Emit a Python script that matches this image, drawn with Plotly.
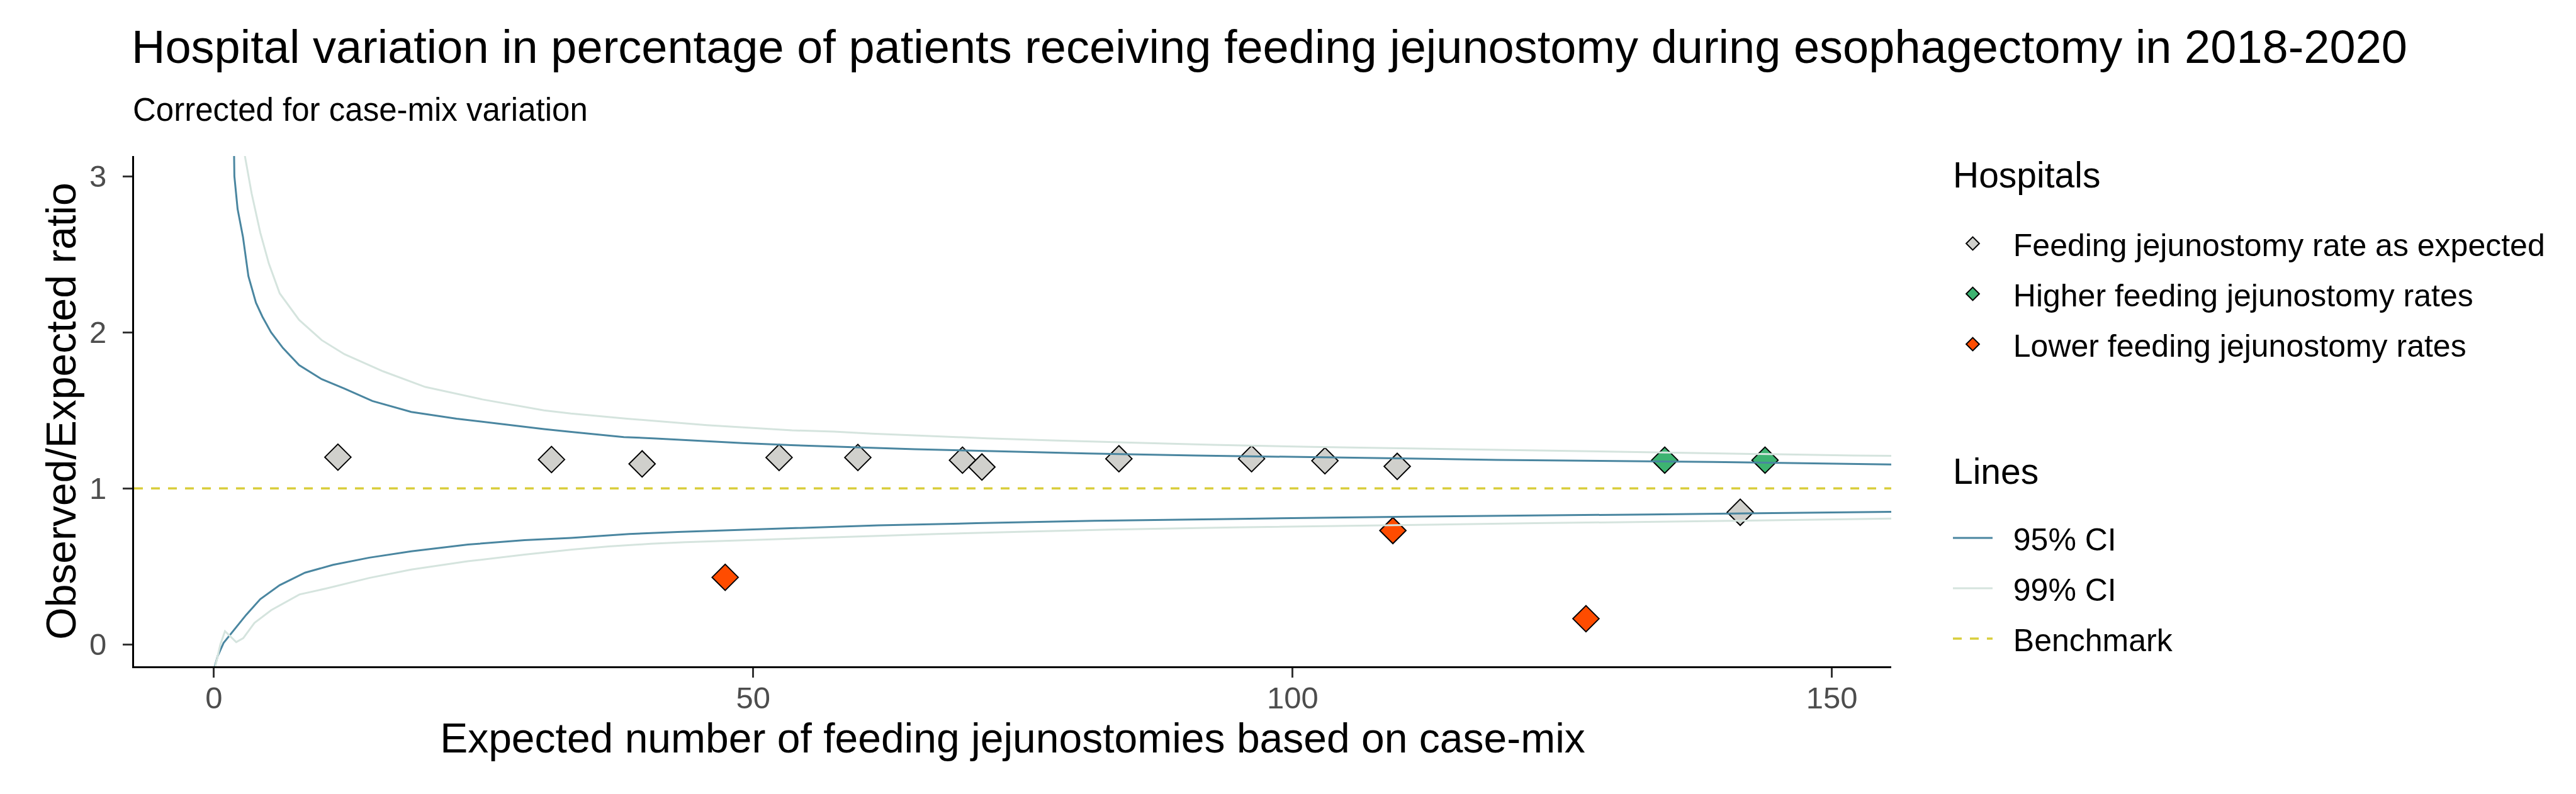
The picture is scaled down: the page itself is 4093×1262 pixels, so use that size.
import plotly.graph_objects as go

# ---------------- data ----------------
cat_labels = ["Feeding jejunostomy rate as expected",
              "Higher feeding jejunostomy rates",
              "Lower feeding jejunostomy rates"]
line_labels = ["95% CI", "99% CI", "Benchmark"]

asexp_x = [11.5, 31.3, 39.7, 52.4, 59.7, 69.4, 71.2, 83.9, 96.2, 103.0, 109.7, 141.5]
asexp_y = [1.20, 1.185, 1.157, 1.198, 1.198, 1.181, 1.137, 1.19, 1.19, 1.177, 1.141, 0.847]
higher_x = [134.5, 143.8]
higher_y = [1.181, 1.181]
lower_x = [47.4, 109.3, 127.2]
lower_y = [0.43, 0.73, 0.165]

ci95_up_x = [1.8, 1.9, 2.2, 2.7, 3.2, 3.9, 4.5, 5.3, 6.4, 7.9, 10.0, 12.1, 14.7, 18.3, 22.5,
             25.5, 28.5, 30.6, 33.0, 35.5, 38.0, 41.0, 44.5, 49.0, 53.5, 58.5, 65.0, 72.7,
             81.0, 91.0, 103.5, 119.0, 139.0, 153.0, 156.0]
ci95_up_y = [3.5, 3.0, 2.79, 2.61, 2.36, 2.19, 2.10, 2.00, 1.90, 1.79, 1.70, 1.64, 1.56, 1.49, 1.447,
             1.422, 1.397, 1.38, 1.363, 1.346, 1.329, 1.32, 1.306, 1.29, 1.277, 1.266, 1.251, 1.238,
             1.224, 1.211, 1.198, 1.183, 1.169, 1.155, 1.153]
ci95_lo_x = [0.05, 0.35, 0.9, 1.9, 3.0, 4.3, 6.1, 8.45, 11.05, 14.4, 18.3, 23.55, 28.8, 33.1,
             38.5, 43.0, 48.5, 54.5, 61.6, 70.7, 81.6, 95.0, 112.0, 133.0, 150.0, 156.0]
ci95_lo_y = [-0.15, -0.075, 0.01, 0.097, 0.19, 0.29, 0.38, 0.46, 0.51, 0.556, 0.597, 0.64, 0.668, 0.683,
             0.708, 0.721, 0.733, 0.747, 0.763, 0.777, 0.792, 0.805, 0.82, 0.833, 0.847, 0.85]

ci99_up_x = [2.8, 2.85, 3.5, 4.3, 5.1, 6.1, 7.9, 10.0, 12.1, 15.7, 19.6, 24.9, 30.6, 33.1, 38.3,
             45.7, 53.6, 57.5, 61.0, 66.0, 71.7, 77.7, 84.6, 92.6, 101.7, 112.8, 125.3, 139.8,
             152.0, 156.0]
ci99_up_y = [3.5, 3.14, 2.89, 2.64, 2.44, 2.25, 2.08, 1.95, 1.86, 1.75, 1.65, 1.57, 1.50, 1.48, 1.447,
             1.405, 1.372, 1.364, 1.351, 1.337, 1.321, 1.308, 1.294, 1.279, 1.266, 1.253, 1.238, 1.224,
             1.211, 1.208]
ci99_lo_x = [0.1, 0.6, 1.03, 2.07, 2.72, 3.76, 5.32, 7.93, 10.5, 14.4, 18.3, 23.55, 28.8, 33.2, 36.6,
             40.5, 43.7, 47.7, 51.5, 55.0, 60.6, 67.0, 74.7, 83.6, 94.6, 107.4, 122.5, 140.8, 153.5,
             156.0]
ci99_lo_y = [-0.15, 0.0, 0.085, 0.015, 0.04, 0.138, 0.22, 0.32, 0.36, 0.426, 0.48, 0.533, 0.576, 0.608,
             0.628, 0.645, 0.655, 0.664, 0.673, 0.68, 0.694, 0.708, 0.722, 0.737, 0.75, 0.763, 0.777,
             0.792, 0.805, 0.807]

benchmark = 1.0
x_ticks = [0, 50, 100, 150]
y_ticks = [0, 1, 2, 3]
x_range = [-7.4, 155.5]
y_range = [-0.14, 3.13]

# ---------------- styles ----------------
FONT = "Liberation Sans, Arial, sans-serif"
COL_GRAY = "#D0D0CC"
COL_GREEN = "#3DB371"
COL_ORANGE = "#FF4C00"
COL_95 = "#4A86A0"
COL_99 = "#D5E4DE"
COL_BENCH = "#D9CE3C"
PAD = "\u00a0\u00a0"

fig = go.Figure()

groups = [(asexp_x, asexp_y, COL_GRAY), (higher_x, higher_y, COL_GREEN), (lower_x, lower_y, COL_ORANGE)]
for i, (xs, ys, col) in enumerate(groups):
    fig.add_trace(go.Scatter(
        x=xs, y=ys, mode="markers", name=PAD + cat_labels[i],
        marker=dict(symbol="diamond", size=32, color=col, line=dict(color="black", width=2)),
        legend="legend", legendgroup="h%d" % i, cliponaxis=False))

fig.add_trace(go.Scatter(
    x=ci95_up_x + [None] + ci95_lo_x, y=ci95_up_y + [None] + ci95_lo_y,
    mode="lines", name=PAD + line_labels[0], line=dict(color=COL_95, width=3),
    legend="legend2", legendgroup="l0", legendrank=1, connectgaps=False))
fig.add_trace(go.Scatter(
    x=ci99_up_x + [None] + ci99_lo_x, y=ci99_up_y + [None] + ci99_lo_y,
    mode="lines", name=PAD + line_labels[1], line=dict(color=COL_99, width=3),
    legend="legend2", legendgroup="l1", legendrank=2, connectgaps=False))

fig.add_hline(y=benchmark, line=dict(color=COL_BENCH, width=3.3, dash="14px,13px"),
              layer="above", showlegend=True, name=PAD + line_labels[2],
              legend="legend2", legendgroup="l2", legendrank=3)

L, R, T, B = 205, 1096, 240, 211
W, H = 4093, 1262
plot_h = H - T - B
plot_w = W - L - R


def px_x(px):
    return (px - L) / plot_w


def px_y(py):
    return (H - B - py) / plot_h


fig.update_layout(
    width=W, height=H,
    margin=dict(l=L, r=R, t=T, b=B, pad=0),
    paper_bgcolor="white", plot_bgcolor="white",
    font=dict(family=FONT, color="black"),
    title=dict(text="Hospital variation in percentage of patients receiving feeding jejunostomy during esophagectomy in 2018-2020",
               font=dict(size=74, color="black"), x=201 / W, xanchor="left",
               y=1 - 66 / H, yanchor="middle", xref="container", yref="container"),
    annotations=[
        dict(text="Corrected for case-mix variation", xref="paper", yref="paper",
             x=px_x(201), y=px_y(166), xanchor="left", yanchor="middle",
             showarrow=False, font=dict(size=51, color="black")),
        dict(text="Hospitals", xref="paper", yref="paper",
             x=px_x(3093), y=px_y(270), xanchor="left", yanchor="middle",
             showarrow=False, font=dict(size=57, color="black")),
        dict(text="Lines", xref="paper", yref="paper",
             x=px_x(3093), y=px_y(741), xanchor="left", yanchor="middle",
             showarrow=False, font=dict(size=57, color="black")),
    ],
    xaxis=dict(range=x_range, tickvals=x_ticks, ticktext=[str(v) for v in x_ticks],
               showgrid=False, zeroline=False, showline=True, linecolor="black", linewidth=3,
               ticks="outside", ticklen=15, tickwidth=3, tickcolor="#333333",
               tickfont=dict(size=49, color="#4D4D4D"), ticklabelstandoff=-10,
               title=dict(text="Expected number of feeding jejunostomies based on case-mix",
                          font=dict(size=66, color="black"), standoff=16)),
    yaxis=dict(range=y_range, tickvals=y_ticks, ticktext=[str(v) for v in y_ticks],
               showgrid=False, zeroline=False, showline=True, linecolor="black", linewidth=3,
               ticks="outside", ticklen=15, tickwidth=3, tickcolor="#333333",
               tickfont=dict(size=49, color="#4D4D4D"), ticklabelstandoff=16,
               title=dict(text="Observed/Expected ratio", font=dict(size=66, color="black"),
                          standoff=0)),
    legend=dict(x=px_x(3090), xanchor="left", y=px_y(340), yanchor="top",
                font=dict(size=50, color="black"),
                tracegroupgap=12, bgcolor="rgba(0,0,0,0)", itemwidth=63),
    legend2=dict(x=px_x(3090), xanchor="left", y=px_y(808), yanchor="top",
                 font=dict(size=50, color="black"),
                 tracegroupgap=12, bgcolor="rgba(0,0,0,0)", itemwidth=63),
    showlegend=True,
)

fig.write_html("out.html")
